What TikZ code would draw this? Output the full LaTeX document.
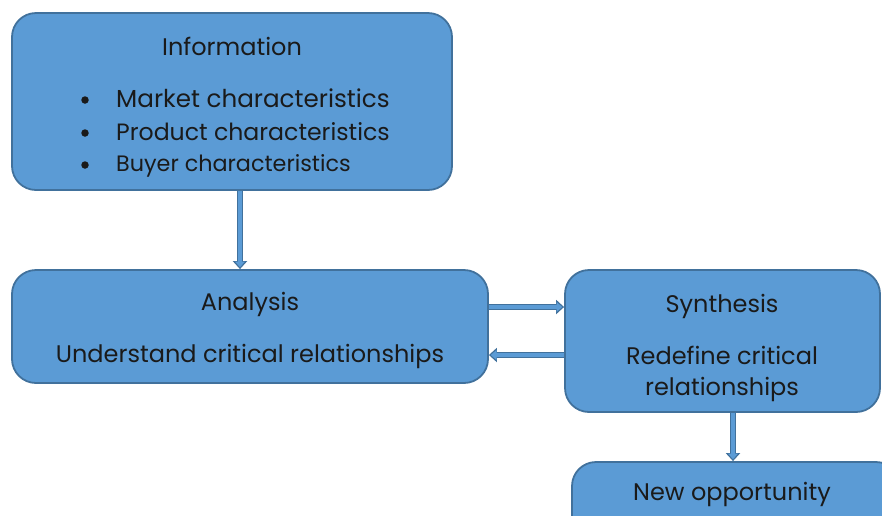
\documentclass[tikz,border=0pt]{standalone}
\usepackage{fontspec}
\setmainfont{Poppins}
\usetikzlibrary{arrows.meta,calc}
\definecolor{boxblue}{HTML}{5B9BD5}
\definecolor{boxedge}{HTML}{41719C}
\definecolor{ink}{HTML}{1A1A1A}
\begin{document}
\begin{tikzpicture}[x=1pt,y=-1pt,
  box/.style={draw=boxedge, fill=boxblue, line width=1.8pt, rounded corners=24pt, inner sep=0pt},
  txt/.style={text=ink, font=\fontsize{24}{28}\selectfont, inner sep=0pt, anchor=base},
  bul/.style={circle, fill=ink, inner sep=0pt, minimum size=7.5pt},
  arr/.style={draw=boxedge, line width=6pt, -{Triangle[length=8pt,width=14pt]},
    postaction={draw=boxblue, line width=3.4pt, shorten >=1.8pt, -{Triangle[length=5.8pt,width=9.5pt]}}}]
\useasboundingbox (0,0) rectangle (882,515);
\clip (0,0) rectangle (882,515);
% boxes
\node[box, minimum width=440pt, minimum height=177pt] (info) at (232,101.5) {};
\node[box, minimum width=476pt, minimum height=113pt] (ana) at (250,326.5) {};
\node[box, minimum width=315pt, minimum height=142pt] (syn) at (722.5,341) {};
\node[box, minimum width=328pt, minimum height=98pt] (new) at (736,511) {};
% texts
\node[txt] (tinfo) at (232,55) {Information};
\node[bul] (b1) at (85,100) {};
\node[bul] (b2) at (85,133) {};
\node[bul] (b3) at (85,165) {};
\node[txt, anchor=base west, font=\fontsize{24.6}{28}\selectfont] (t1) at (116,107) {Market characteristics};
\node[txt, anchor=base west, font=\fontsize{23.6}{28}\selectfont] (t2) at (116,140) {Product characteristics};
\node[txt, anchor=base west, font=\fontsize{22.3}{28}\selectfont] (t3) at (116,171) {Buyer characteristics};
\node[txt] (tana) at (250,310) {Analysis};
\node[txt] (tana2) at (250,362) {Understand critical relationships};
\node[txt] (tsyn) at (722,312) {Synthesis};
\node[txt] (tsyn2) at (722,364) {Redefine critical};
\node[txt] (tsyn3) at (722,395) {relationships};
\node[txt] (tnew) at (732,500) {New opportunity};
% arrows
\draw[arr] ($(info.south)+(8,0)$) -- ($(ana.north)+(-10,0)$);
\draw[arr] ($(ana.east)+(0,-19.5)$) -- ($(syn.west)+(0,-34)$);
\draw[arr] ($(syn.west)+(0,14)$) -- ($(ana.east)+(0,28.5)$);
\draw[arr] ($(syn.south)+(10.5,0)$) -- ($(new.north)+(-3,0)$);
\end{tikzpicture}
\end{document}
